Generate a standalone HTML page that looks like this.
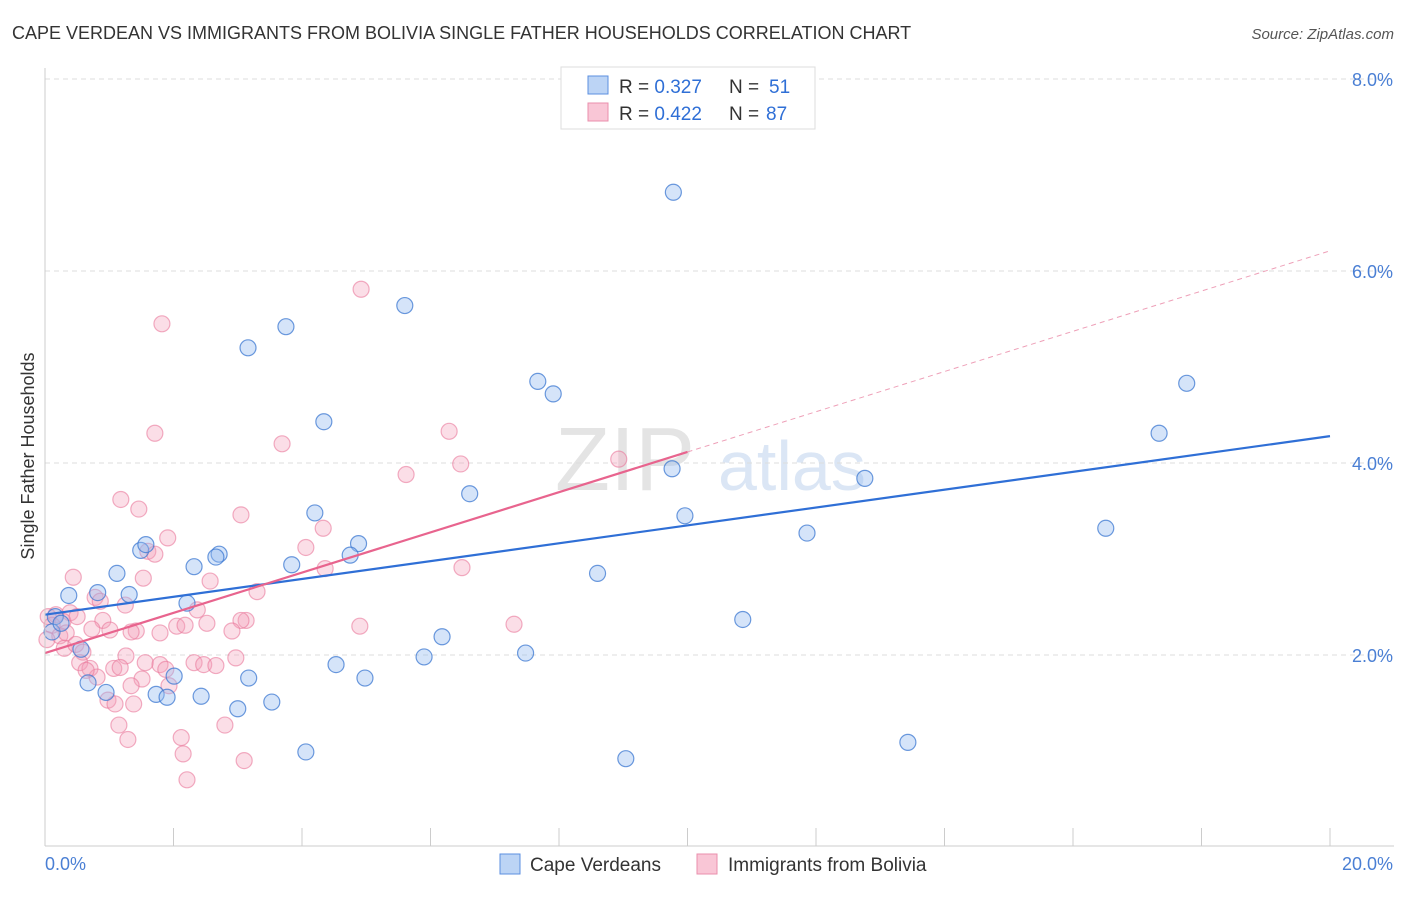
<!DOCTYPE html>
<html><head><meta charset="utf-8"><style>
body{margin:0;background:#fff;font-family:"Liberation Sans",sans-serif}
svg text{font-family:"Liberation Sans",sans-serif}
</style></head><body>
<svg id="c" width="1406" height="892" xmlns="http://www.w3.org/2000/svg">
<text x="12" y="39" font-size="18" fill="#333">CAPE VERDEAN VS IMMIGRANTS FROM BOLIVIA SINGLE FATHER HOUSEHOLDS CORRELATION CHART</text>
<text x="1394" y="39" font-size="15" fill="#555" text-anchor="end" font-style="italic">Source: ZipAtlas.com</text>
<text x="34" y="456" font-size="18" fill="#333" text-anchor="middle" transform="rotate(-90 34 456)">Single Father Households</text>
<g><text x="555" y="490" font-size="90" fill="#e4e4e4" font-family="Liberation Serif">ZIP</text><text x="718" y="490" font-size="70" fill="#dbe6f5">atlas</text></g>
<g id="grid"></g><g id="marks"></g>
<line x1="45" y1="68" x2="45" y2="846" stroke="#ccc"/>
<line x1="45" y1="846" x2="1394" y2="846" stroke="#ccc"/>
<text x="45" y="870" font-size="18" fill="#4a7fd4">0.0%</text>
<text x="1393" y="870" font-size="18" fill="#4a7fd4" text-anchor="end">20.0%</text>
<g>
<rect x="561" y="67" width="254" height="62" fill="#fff" stroke="#ddd"/>
<rect x="588" y="76" width="20" height="18" fill="#bcd4f5" stroke="#5b8fe0"/>
<rect x="588" y="103" width="20" height="18" fill="#f9c6d6" stroke="#ea8fac"/>
<text x="619" y="93" font-size="19" fill="#333">R = <tspan fill="#2f6fd6">0.327</tspan><tspan x="729">N = </tspan><tspan fill="#2f6fd6" x="769">51</tspan></text>
<text x="619" y="120" font-size="19" fill="#333">R = <tspan fill="#2f6fd6">0.422</tspan><tspan x="729">N = </tspan><tspan fill="#2f6fd6" x="766">87</tspan></text>
</g>
<g>
<rect x="500" y="854" width="20" height="20" fill="#bcd4f5" stroke="#5b8fe0"/>
<text x="530" y="871" font-size="19" fill="#333">Cape Verdeans</text>
<rect x="697" y="854" width="20" height="20" fill="#f9c6d6" stroke="#ea8fac"/>
<text x="728" y="871" font-size="19" fill="#333">Immigrants from Bolivia</text>
</g>
</svg>
<script>
const yTicks=[2,4,6,8];
const xTicks=[0,2,4,6,8,10,12,14,16,18,20];
const blueX=[9.78,5.60,3.75,3.16,4.34,7.67,7.91,17.77,17.34,9.76,12.76,6.61,9.96,4.20,16.51,11.86,4.88,4.75,1.49,1.57,2.71,2.66,3.84,2.32,1.12,8.60,0.82,1.31,0.37,2.21,10.86,6.18,7.48,5.90,4.53,4.98,3.17,2.01,0.67,0.95,1.73,1.90,2.43,3.53,3.00,4.06,9.04,13.43,0.16,0.11,0.25,0.56];
const blueY=[6.82,5.64,5.42,5.20,4.43,4.85,4.72,4.83,4.31,3.94,3.84,3.68,3.45,3.48,3.32,3.27,3.16,3.04,3.09,3.15,3.05,3.02,2.94,2.92,2.85,2.85,2.65,2.63,2.62,2.54,2.37,2.19,2.02,1.98,1.90,1.76,1.76,1.78,1.71,1.61,1.59,1.56,1.57,1.51,1.44,0.99,0.92,1.09,2.40,2.24,2.33,2.06];
const pinkX=[4.92,1.82,1.71,6.29,3.69,5.62,6.47,8.93,1.18,1.46,3.05,4.33,1.91,4.06,1.60,1.71,4.36,6.49,0.44,1.53,2.57,3.30,0.78,0.86,1.25,2.37,0.17,0.39,0.28,0.05,0.11,0.23,0.33,0.50,3.13,3.05,2.52,2.05,2.18,2.91,4.90,7.30,0.90,1.01,1.42,1.79,0.73,1.34,0.30,0.48,0.59,0.03,2.97,1.26,1.56,1.79,1.88,2.32,2.47,2.66,0.54,0.70,1.07,1.17,0.81,0.64,1.51,1.34,1.93,0.98,1.09,1.38,2.80,1.15,1.29,2.12,2.15,3.10,2.21];
const pinkY=[5.81,5.45,4.31,4.33,4.20,3.88,3.99,4.04,3.62,3.52,3.46,3.32,3.22,3.12,3.08,3.05,2.90,2.91,2.81,2.80,2.77,2.66,2.60,2.56,2.52,2.47,2.42,2.44,2.35,2.40,2.31,2.20,2.23,2.40,2.36,2.36,2.33,2.30,2.31,2.25,2.30,2.32,2.36,2.26,2.25,2.23,2.27,2.24,2.07,2.11,2.03,2.16,1.97,1.99,1.92,1.90,1.85,1.92,1.90,1.89,1.92,1.86,1.86,1.87,1.77,1.84,1.75,1.68,1.68,1.53,1.49,1.49,1.27,1.27,1.12,1.14,0.97,0.90,0.70];
const blueLine=[2.42,4.28];
const pinkLine=[2.02,6.21];
const pinkSolidEnd=10;
const X=v=>45+v/20*1285, Y=v=>847-v*96;
const NS='http://www.w3.org/2000/svg';
const grid=document.getElementById('grid'), marks=document.getElementById('marks'), svg=document.getElementById('c');
function mk(tag,attrs,parent){const e=document.createElementNS(NS,tag);for(const k in attrs)e.setAttribute(k,attrs[k]);parent.appendChild(e);return e;}
yTicks.forEach(t=>{
 const l=mk('line',{x1:45,x2:1394,y1:Y(t),y2:Y(t),stroke:'#ddd','stroke-dasharray':'5,4'},grid);
 
 
 const tx=mk('text',{x:1393,y:Y(t)+7,'font-size':18,fill:'#4a7fd4','text-anchor':'end'},svg);
 tx.textContent=t.toFixed(1)+'%';
 
 
});
xTicks.forEach(t=>{
 const l=mk('line',{x1:X(t),x2:X(t),y1:828,y2:846,stroke:'#ccc'},grid);
 
 
});
pinkX.forEach((x,i)=>{
 const c=mk('circle',{cx:X(x),cy:Y(pinkY[i]),r:8,fill:'rgba(244,160,185,0.35)',stroke:'rgba(234,120,155,0.6)','stroke-width':1.2},marks);
 
 
});
blueX.forEach((x,i)=>{
 const c=mk('circle',{cx:X(x),cy:Y(blueY[i]),r:8,fill:'rgba(150,188,240,0.4)',stroke:'rgba(60,120,210,0.75)','stroke-width':1.2},marks);
 
 
});
const pAt=x=>pinkLine[0]+(pinkLine[1]-pinkLine[0])*x/20;
let l1=mk('line',{x1:X(0),y1:Y(blueLine[0]),x2:X(20),y2:Y(blueLine[1]),stroke:'#2f6fd6','stroke-width':2.2},marks);


let l2=mk('line',{x1:X(0),y1:Y(pAt(0)),x2:X(pinkSolidEnd),y2:Y(pAt(pinkSolidEnd)),stroke:'#e8648e','stroke-width':2.2},marks);


let l3=mk('line',{x1:X(pinkSolidEnd),y1:Y(pAt(pinkSolidEnd)),x2:X(20),y2:Y(pAt(20)),stroke:'#eea0b8','stroke-width':1,'stroke-dasharray':'5,4'},marks);


</script>
</body></html>
